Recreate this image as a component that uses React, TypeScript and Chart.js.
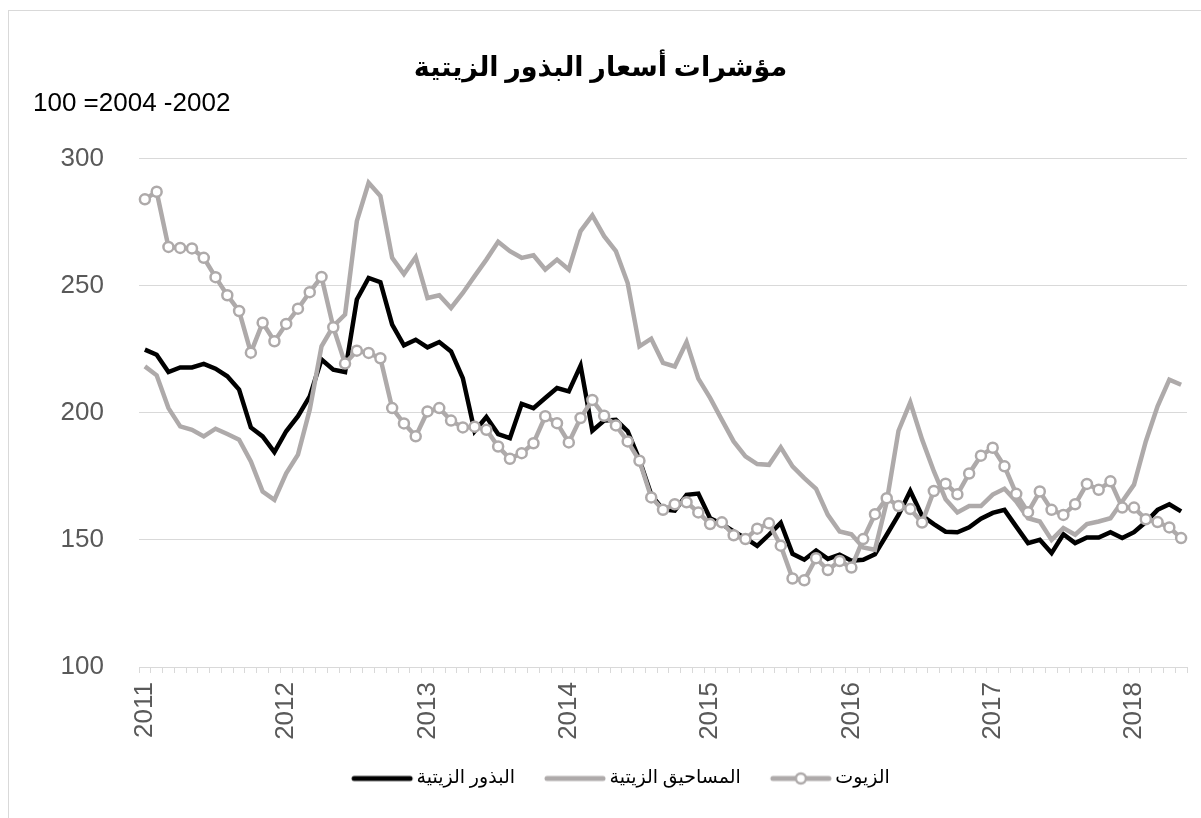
import React, { useEffect, useRef } from "react";
import { Chart, registerables } from "chart.js";

Chart.register(...registerables);

const years = ["2011", "2012", "2013", "2014", "2015", "2016", "2017", "2018"];
const monthsOfYear = ["01", "02", "03", "04", "05", "06", "07", "08", "09", "10", "11", "12"];
const lastYearMonths = 5;

const categories: string[] = [];
years.forEach((y, yi) => {
  const n = yi === years.length - 1 ? lastYearMonths : 12;
  for (let m = 0; m < n; m++) categories.push(monthsOfYear[m] + "/" + y);
});

const seriesNames = ["البذور الزيتية", "المساحيق الزيتية", "الزيوت"];

const seedsIndex = [
  224.8, 222.8, 216.0, 217.8, 217.8, 219.2, 217.3, 214.3, 209.1, 194.2,
  190.7, 184.5, 192.7, 198.6, 206.4, 220.9, 216.9, 216.0, 244.5, 253.0,
  251.3, 234.6, 226.5, 228.7, 225.7, 227.8, 224.1, 213.6, 192.7, 198.3,
  191.6, 190.0, 203.5, 201.8, 205.8, 209.7, 208.4, 218.5, 192.9, 196.9,
  197.2, 192.7, 181.5, 167.7, 162.0, 161.5, 167.7, 168.2, 158.5, 156.2,
  153.3, 150.7, 147.6, 152.0, 156.7, 144.5, 142.2, 145.8, 142.5, 144.2,
  141.8, 142.2, 144.3, 152.0, 159.8, 169.2, 159.5, 156.2, 153.2, 153.0,
  154.9, 158.3, 160.6, 161.8, 155.2, 148.7, 150.0, 144.8, 152.2, 148.7,
  150.9, 150.9, 153.0, 150.7, 153.0, 157.0, 161.8, 164.0, 161.2,
];

const mealsIndex = [
  218.2, 214.7, 201.8, 194.6, 193.3, 190.7, 193.7, 191.6, 189.4, 180.8,
  169.0, 165.7, 176.2, 183.5, 201.2, 226.1, 234.0, 238.6, 275.3, 290.4,
  285.2, 260.9, 254.5, 261.2, 245.1, 246.2, 241.2, 247.1, 253.7, 260.2,
  267.2, 263.5, 260.9, 261.9, 256.3, 260.2, 256.3, 271.4, 277.6, 269.4,
  263.5, 251.0, 226.1, 229.1, 219.6, 218.2, 227.8, 213.4, 205.8, 197.2,
  188.7, 182.8, 179.8, 179.5, 186.4, 178.9, 174.3, 170.1, 159.8, 153.3,
  152.2, 147.0, 146.1, 165.0, 192.9, 204.1, 189.5, 177.0, 166.0, 160.8,
  163.3, 163.3, 167.8, 170.1, 165.1, 158.5, 157.2, 150.0, 154.6, 152.0,
  156.2, 157.2, 158.5, 165.1, 171.7, 188.7, 202.5, 213.0, 211.0,
];

const oilsIndex = [
  283.9, 286.9, 265.2, 264.8, 264.6, 260.9, 253.3, 246.2, 240.0, 223.6,
  235.4, 228.1, 234.9, 240.9, 247.4, 253.4, 233.6, 219.3, 224.4, 223.5,
  221.4, 201.8, 195.8, 190.7, 200.5, 201.8, 196.9, 194.2, 194.5, 193.3,
  186.7, 181.9, 184.1, 188.0, 198.6, 195.9, 188.3, 197.9, 205.0, 198.8,
  195.0, 188.7, 181.1, 166.7, 161.8, 164.0, 164.8, 160.8, 156.2, 156.9,
  151.8, 150.3, 154.4, 156.5, 147.7, 134.8, 134.1, 142.8, 138.1, 141.7,
  139.1, 150.3, 160.1, 166.4, 163.3, 162.1, 156.8, 169.2, 172.1, 167.9,
  176.1, 183.1, 186.2, 178.9, 168.1, 160.9, 169.0, 161.8, 159.8, 164.0,
  172.0, 169.7, 173.0, 162.7, 162.7, 158.1, 157.0, 154.9, 150.7,
];

const titleText = "مؤشرات أسعار البذور الزيتية";
const baseNote = "100 =2004 -2002";
const yMin = 100;
const yMax = 300;
const yStep = 50;

const BLACK = "#000000";
const GRAY = "#AEAAAA";
const AXIS_GRAY = "#D9D9D9";
const TEXT_GRAY = "#595959";
const ARABIC_FONT = '"Times New Roman", "Liberation Serif", "DejaVu Serif", "DejaVu Sans", serif';
const LATIN_FONT = '"Liberation Sans", Arial, Helvetica, sans-serif';

function makeLegendImage(color: string, marker: boolean): HTMLCanvasElement {
  const c = document.createElement("canvas");
  c.width = 74;
  c.height = 16;
  const g = c.getContext("2d")!;
  g.strokeStyle = color;
  g.lineWidth = 5;
  g.lineCap = "round";
  g.beginPath();
  g.moveTo(12, 8);
  g.lineTo(68, 8);
  g.stroke();
  if (marker) {
    g.beginPath();
    g.arc(40, 8, 5, 0, Math.PI * 2);
    g.fillStyle = "#ffffff";
    g.fill();
    g.lineWidth = 2.5;
    g.stroke();
  }
  return c;
}

const notePlugin = {
  id: "baseNote",
  afterLayout(chart: any) {
    const lg = chart.legend;
    if (lg) {
      lg.left += 20;
      lg.right += 20;
    }
  },
  afterDraw(chart: any) {
    const ctx = chart.ctx;
    ctx.save();
    ctx.font = "26px " + LATIN_FONT;
    ctx.fillStyle = "#000000";
    ctx.textAlign = "left";
    ctx.textBaseline = "middle";
    ctx.fillText(baseNote, 33, 104);
    ctx.restore();
  },
};

export default function App() {
  const canvasRef = useRef<HTMLCanvasElement | null>(null);

  useEffect(() => {
    const canvas = canvasRef.current;
    if (!canvas) return;
    const legendImages = [
      makeLegendImage(BLACK, false),
      makeLegendImage(GRAY, false),
      makeLegendImage(GRAY, true),
    ];
    const chart = new Chart(canvas, {
      type: "line",
      data: {
        labels: categories,
        datasets: [
          {
            label: seriesNames[0],
            data: seedsIndex,
            borderColor: BLACK,
            backgroundColor: BLACK,
            borderWidth: 4.5,
            pointRadius: 0,
            tension: 0,
            order: 3,
          },
          {
            label: seriesNames[1],
            data: mealsIndex,
            borderColor: GRAY,
            backgroundColor: GRAY,
            borderWidth: 4.5,
            pointRadius: 0,
            tension: 0,
            order: 2,
          },
          {
            label: seriesNames[2],
            data: oilsIndex,
            borderColor: GRAY,
            backgroundColor: "#ffffff",
            borderWidth: 4.5,
            pointRadius: 5,
            pointBorderWidth: 2.5,
            pointBackgroundColor: "#ffffff",
            pointBorderColor: GRAY,
            tension: 0,
            order: 1,
          },
        ],
      },
      options: {
        responsive: false,
        animation: false,
        events: [],
        layout: { padding: { left: 14, right: 14, top: 0, bottom: 20 } },
        plugins: {
          tooltip: { enabled: false },
          title: {
            display: true,
            text: titleText,
            color: "#000000",
            font: { family: ARABIC_FONT, size: 27, weight: "bold" },
            padding: { top: 53, bottom: 73 },
          },
          legend: {
            display: true,
            position: "bottom",
            labels: {
              usePointStyle: true,
              pointStyleWidth: 56,
              padding: 29,
              color: TEXT_GRAY,
              font: { family: ARABIC_FONT, size: 19 },
              generateLabels: (ch: any) =>
                ch.data.datasets.map((ds: any, i: number) => ({
                  text: ds.label,
                  fillStyle: ds.borderColor,
                  strokeStyle: ds.borderColor,
                  lineWidth: 0,
                  hidden: false,
                  datasetIndex: i,
                  pointStyle: legendImages[i],
                })),
            },
          },
        },
        scales: {
          x: {
            type: "category",
            offset: true,
            afterFit: (scale: any) => {
              scale.height = 73;
              scale.paddingLeft = 0;
              scale.paddingRight = 0;
            },
            border: { display: true, color: AXIS_GRAY, width: 1 },
            grid: {
              display: true,
              offset: true,
              drawOnChartArea: false,
              drawTicks: true,
              tickLength: 6,
              color: AXIS_GRAY,
            },
            ticks: {
              autoSkip: false,
              maxRotation: 90,
              minRotation: 90,
              padding: 9,
              color: TEXT_GRAY,
              font: { family: LATIN_FONT, size: 26 },
              callback: (_v: any, index: number) => (index % 12 === 0 ? years[index / 12] : ""),
            },
          },
          y: {
            min: yMin,
            max: yMax,
            afterFit: (scale: any) => {
              scale.width = 125;
            },
            border: { display: false },
            grid: { color: AXIS_GRAY, lineWidth: 1, drawTicks: false },
            ticks: {
              stepSize: yStep,
              padding: 35,
              color: TEXT_GRAY,
              font: { family: LATIN_FONT, size: 26 },
            },
          },
        },
      },
      plugins: [notePlugin],
    } as any);
    return () => chart.destroy();
  }, []);

  return (
    <div style={{ position: "absolute", left: 0, top: 0, width: 1201, height: 818, overflow: "hidden", background: "#ffffff" }}>
      <div
        style={{
          position: "absolute",
          left: 8,
          top: 10,
          width: 1300,
          height: 900,
          border: "1px solid #D9D9D9",
        }}
      />
      <canvas ref={canvasRef} width={1201} height={818} style={{ position: "absolute", left: 0, top: 0 }} />
    </div>
  );
}
